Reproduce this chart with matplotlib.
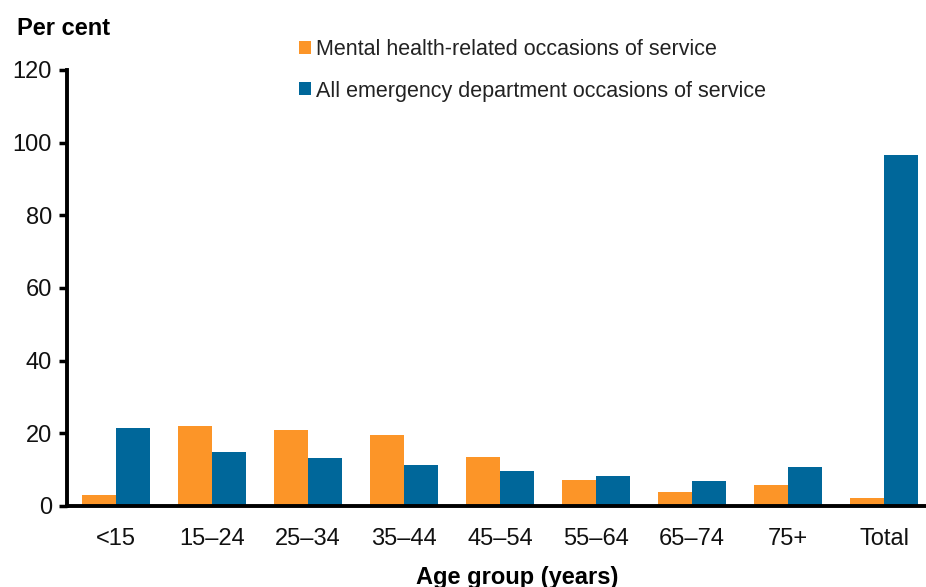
import matplotlib
matplotlib.use("Agg")
import matplotlib.pyplot as plt
import numpy as np

categories = ["<15", "15\u201324", "25\u201334", "35\u201344", "45\u201354", "55\u201364", "65\u201374", "75+", "Total"]
mental_health = [2.9, 22.1, 21.0, 19.6, 13.6, 7.2, 3.8, 5.8, 2.3]
all_ed = [21.4, 14.8, 13.3, 11.2, 9.7, 8.3, 6.9, 10.7, 96.6]
series_names = ["Mental health-related occasions of service", "All emergency department occasions of service"]
yticks = [0, 20, 40, 60, 80, 100, 120]

plt.rcParams['font.family'] = ['Liberation Sans', 'DejaVu Sans']

fig = plt.figure(figsize=(9.26, 5.87), dpi=100)
ax = fig.add_axes([0.0724, 0.138, 0.927, 0.743])

x = np.arange(len(categories))
w = 0.355
ax.bar(x - w/2, mental_health, width=w, color="#FC9528", label=series_names[0])
ax.bar(x + w/2, all_ed, width=w, color="#00679A", label=series_names[1])

ax.set_xlim(-0.51, 8.43)
ax.set_ylim(0, 120)
ax.set_yticks(yticks)
ax.set_xticks(x)
ax.set_xticklabels(categories)
for s in ["top", "right"]:
    ax.spines[s].set_visible(False)
ax.spines["left"].set_linewidth(2.8)
ax.spines["bottom"].set_linewidth(2.8)
ax.tick_params(axis="y", direction="out", length=6, width=2.5, labelsize=17, pad=5, labelcolor="#111111")
ax.tick_params(axis="x", length=0, labelsize=17, pad=16, labelcolor="#111111")

fig.text(0.018, 0.952, "Per cent", fontsize=17, fontweight="bold", ha="left", va="center")
fig.text(0.559, 0.017, "Age group (years)", fontsize=17, fontweight="bold", ha="center", va="center")

leg = ax.legend(loc="upper left", bbox_to_anchor=(0.314, 0.948), bbox_transform=fig.transFigure,
                frameon=False, fontsize=15.5, handlelength=0.55, handleheight=0.55,
                handletextpad=0.2, labelspacing=0.95, borderaxespad=0)
for t in leg.get_texts():
    t.set_color("#222222")

fig.savefig("out.png", dpi=100)
